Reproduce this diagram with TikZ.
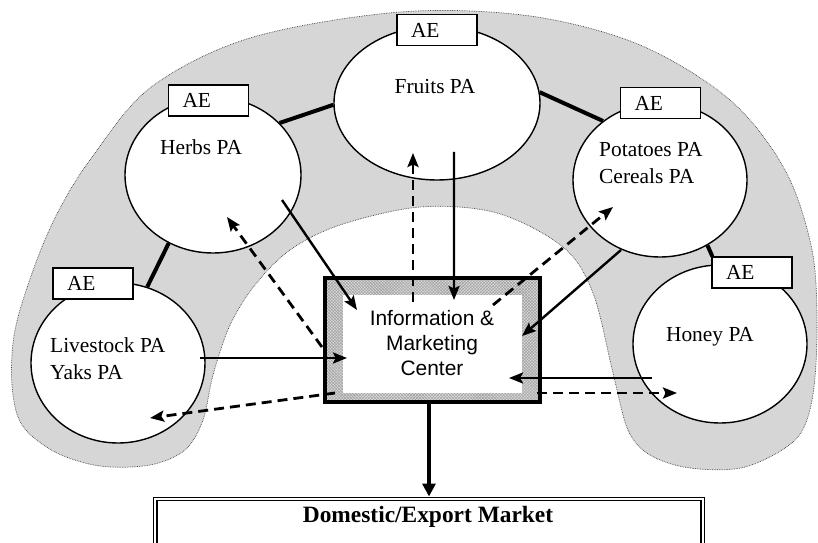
\documentclass[tikz,border=0pt]{standalone}
\usepackage{fontspec}
\setmainfont{Liberation Serif}
\newfontfamily\arialfont{Liberation Sans}
\usetikzlibrary{arrows.meta,calc,patterns,shapes.geometric}

\begin{document}
\begin{tikzpicture}[x=1bp,y=-1bp,
  shadearea/.style={fill=black!16, draw=black!75, densely dotted, line width=0.7bp},
  paell/.style={ellipse, draw, fill=white, line width=1.4bp, inner sep=0pt},
  aebox/.style={draw, fill=white, line width=1.4bp, minimum height=31bp,
    text width=52bp, align=left, inner xsep=14bp, inner ysep=0pt,
    font=\fontsize{21.5}{24}\selectfont},
  patext/.style={font=\fontsize{21.5}{26.5}\selectfont, align=left, inner sep=0pt},
  palink/.style={line width=4bp},
  tipstyle/.style={-{Stealth[length=14bp,width=11bp,inset=2.5bp]}},
  flowarrow/.style={line width=2.4bp, tipstyle},
  backarrow/.style={line width=2.8bp, dash pattern=on 10bp off 6bp, tipstyle},
]
\useasboundingbox (0,0) rectangle (818,543);

% shaded horseshoe behind the producer associations
\draw[shadearea] plot[smooth cycle, tension=0.55] coordinates {
  (100,466) (55,452) (22,425) (12,385) (15,330) (35,265) (58,212) (90,160)
  (150,88) (250,38) (400,12) (530,16) (640,45) (730,100) (785,170) (812,250)
  (817,330) (812,400) (795,440) (745,467) (690,468) (650,455) (628,430)
  (613,373) (593,293) (563,247) (497,213) (420,207) (340,225) (290,250)
  (255,285) (230,325) (213,375) (203,420) (185,450) (150,465)};

% producer associations
\node[paell, minimum width=176bp, minimum height=156bp] (herbs) at (213,175) {};
\node[paell, minimum width=206bp, minimum height=154bp] (fruits) at (437,103) {};
\node[paell, minimum width=174bp, minimum height=154bp] (potatoes) at (660,180) {};
\node[paell, minimum width=174bp, minimum height=158bp] (honey) at (720,344) {};
\node[paell, minimum width=174bp, minimum height=160bp] (livestock) at (118,363) {};

% AE boxes
\node[aebox] (herbsAE) at (208.5,100.5) {AE};
\node[aebox] (fruitsAE) at (437,30) {AE};
\node[aebox] (potatoesAE) at (660.5,103) {AE};
\node[aebox] (honeyAE) at (752,272.5) {AE};
\node[aebox] (livestockAE) at (93,283.5) {AE};

% links between neighbouring associations
\draw[palink] (herbs.38) -- (fruits.181);
\draw[palink] (fruits.6) -- (potatoes.134);
\draw[palink] (potatoes.-54) -- ([xshift=1bp]honeyAE.north west);
\draw[palink] (herbs.-123) -- (livestock.69);

% association labels
\node[patext] (herbsT) at (201,147) {Herbs PA};
\node[patext] (fruitsT) at (435,87) {Fruits PA};
\node[patext, anchor=west] (potatoesT) at (599,163) {Potatoes PA\\Cereals PA};
\node[patext] (honeyT) at (710,337) {Honey PA};
\node[patext, anchor=west] (livestockT) at (50,358.5) {Livestock PA\\Yaks PA};

% information and marketing center
\node[draw, line width=4bp, minimum width=215bp, minimum height=124bp,
  preaction={fill=black!15}, pattern=crosshatch, pattern color=black!38] (imc) at (432.5,340) {};
\fill[white] (343,295) rectangle (522,393);
\node[font=\arialfont\fontsize{21}{25.5}\selectfont, align=center] (imcT) at (432,343)
  {Information \&\\Marketing\\Center};

% market
\node[draw, double, double distance=2bp, line width=1.2bp, minimum width=547bp,
  minimum height=70bp, anchor=north] (market) at (429,498.5) {};
\node[font=\bfseries\fontsize{23.5}{26}\selectfont] (marketT) at (428,517) {Domestic/Export Market};
\draw[line width=4bp, -{Triangle[length=13bp,width=13bp]}, shorten >=2bp]
  (imc.south -| market.north) -- (market.north);

% flows into the center
\draw[flowarrow] ($(herbs)+(69,25)$) -- ($(imc)+(-75.5,-30)$);
\draw[flowarrow] ($(fruits)+(17,49)$) -- ($(imc)+(21.5,-40)$);
\draw[flowarrow] ($(potatoes)+(-39,70)$) -- ($(imc)+(89.5,-4)$);
\draw[flowarrow] ($(honey)+(-68,34)$) -- ($(imc)+(76.5,38)$);
\draw[flowarrow] ($(livestock)+(82,-5)$) -- ($(imc)+(-85.5,18)$);

% flows back to the associations
\draw[backarrow] ($(imc)+(-110.5,7)$) -- ($(herbs)+(14,42)$);
\draw[backarrow] ($(imc)+(-19.5,-38)$) -- ($(fruits)+(-24,50)$);
\draw[backarrow] ($(imc)+(60.5,-35)$) -- ($(potatoes)+(-47,27)$);
\draw[backarrow] ($(imc)+(104.5,53)$) -- ($(honey)+(-43,49)$);
\draw[backarrow] ($(imc)+(-97.5,53)$) -- ($(livestock)+(32,55)$);
\end{tikzpicture}
\end{document}
